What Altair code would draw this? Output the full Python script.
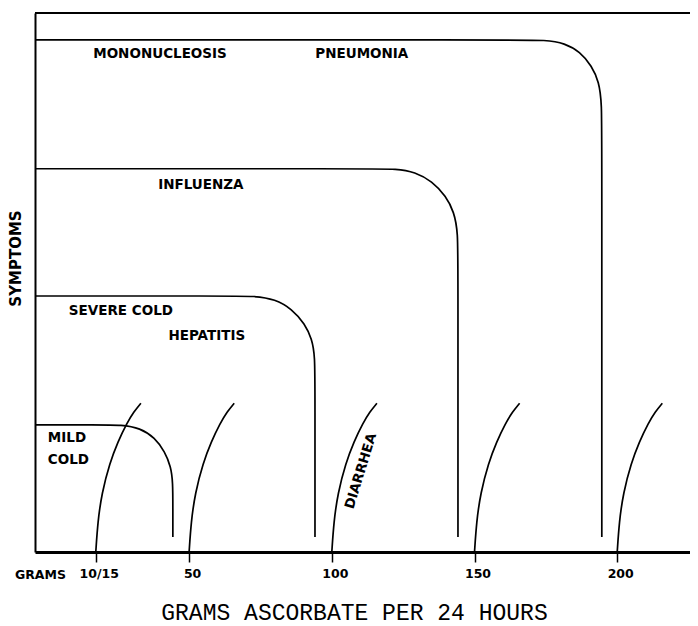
import altair as alt
import pandas as pd

# ---- data (x = grams ascorbate per 24 h, y = symptom level 0-100) ----
pneumonia_g = [-4, 165.0, 174.7, 181.7, 186.9, 191.1, 193.6, 194.6, 194.6, 194.6]
pneumonia_level = [95.0, 95.0, 95.0, 94.4, 92.8, 90.2, 87.2, 83.3, 75.0, 2.8]

influenza_g = [-4, 113.0, 122.8, 129.1, 135.1, 140.0, 142.8, 144.2, 144.2, 144.2]
influenza_level = [71.1, 71.1, 71.1, 70.5, 68.8, 66.0, 63.1, 59.4, 52.0, 2.8]

severe_cold_g = [-4, 63.0, 73.1, 80.1, 86.0, 90.6, 93.0, 94.1, 94.1, 94.1]
severe_cold_level = [47.5, 47.5, 47.5, 46.9, 45.1, 42.3, 39.5, 36.5, 29.0, 2.8]

mild_cold_g = [-4, 18.0, 26.5, 32.8, 38.0, 41.5, 43.6, 44.3, 44.3, 44.3]
mild_cold_level = [23.6, 23.6, 23.6, 23.0, 21.2, 18.6, 15.8, 13.0, 8.0, 2.8]

diarrhea_level = [0, 5.6, 10.9, 16.5, 20.4, 23.9, 26.0, 27.6]
diarrhea_1_g = [17.3, 18.0, 19.4, 22.2, 25.0, 28.2, 30.6, 33.1]
diarrhea_2_g = [50, 50.7, 52.1, 54.9, 57.7, 60.9, 63.3, 65.8]
diarrhea_3_g = [100, 100.7, 102.1, 104.9, 107.7, 110.9, 113.3, 115.8]
diarrhea_4_g = [150, 150.7, 152.1, 154.9, 157.7, 160.9, 163.3, 165.8]
diarrhea_5_g = [200, 200.7, 202.1, 204.9, 207.7, 210.9, 213.3, 215.8]

tick_values = [17.3, 50, 100, 150, 200]
tick_labels = ["10/15", "50", "100", "150", "200"]

center_labels = ["MONONUCLEOSIS", "PNEUMONIA", "INFLUENZA", "SEVERE COLD", "HEPATITIS"]
center_label_g = [39.8, 110.5, 54.1, 26.1, 56.2]
center_label_level = [92.4, 92.4, 68.1, 44.7, 40.1]

left_labels = ["MILD", "COLD"]
left_label_g = [0.5, 0.5]
left_label_level = [21.2, 17.1]

diarrhea_label = ["DIARRHEA"]
diarrhea_label_g = [110.2]
diarrhea_label_level = [15.0]
diarrhea_label_angle = [287]

grams_label = ["GRAMS"]
grams_label_g = [-2.1]
grams_label_level = [-4.3]

x_domain = [-4, 225.5]
y_domain = [0, 100]

# ---- build tables ----
series = {
    "pneumonia": (pneumonia_g, pneumonia_level),
    "influenza": (influenza_g, influenza_level),
    "severe_cold": (severe_cold_g, severe_cold_level),
    "mild_cold": (mild_cold_g, mild_cold_level),
    "diarrhea_1": (diarrhea_1_g, diarrhea_level),
    "diarrhea_2": (diarrhea_2_g, diarrhea_level),
    "diarrhea_3": (diarrhea_3_g, diarrhea_level),
    "diarrhea_4": (diarrhea_4_g, diarrhea_level),
    "diarrhea_5": (diarrhea_5_g, diarrhea_level),
}
rows = []
for name, (gs, ls) in series.items():
    for i, (g, l) in enumerate(zip(gs, ls)):
        rows.append({"curve": name, "order": i, "g": g, "level": l})
curves_df = pd.DataFrame(rows)

center_df = pd.DataFrame({"label": center_labels, "g": center_label_g, "level": center_label_level})
left_df = pd.DataFrame({"label": left_labels, "g": left_label_g, "level": left_label_level})
diar_df = pd.DataFrame({"label": diarrhea_label, "g": diarrhea_label_g,
                        "level": diarrhea_label_level, "angle": diarrhea_label_angle})
grams_df = pd.DataFrame({"label": grams_label, "g": grams_label_g, "level": grams_label_level})
border_df = pd.DataFrame({"g": [x_domain[0]], "g2": [x_domain[1]], "level": [y_domain[1]]})

FONT = "DejaVu Sans"
label_expr = "[" + ",".join("'%s'" % t for t in tick_labels) + "][indexof([" + \
    ",".join(str(v) for v in tick_values) + "], datum.value)]"

x_scale = alt.Scale(domain=x_domain, nice=False, zero=False)
y_scale = alt.Scale(domain=y_domain, nice=False, zero=False)

x_axis = alt.Axis(
    values=tick_values, labelExpr=label_expr, grid=False,
    domainColor="black", domainWidth=3,
    tickColor="black", tickWidth=1.5, tickSize=10,
    labelFont=FONT, labelFontWeight="bold", labelFontSize=12.5, labelColor="black",
    labelPadding=5, labelOffset=3,
    title="GRAMS ASCORBATE PER 24 HOURS", titleFont="Liberation Mono",
    titleFontSize=23, titleFontWeight="normal", titleColor="black",
    titleX=319, titleY=60, titleAlign="center", titleBaseline="middle",
)
y_axis = alt.Axis(
    grid=False, ticks=False, labels=False,
    domainColor="black", domainWidth=2,
    title="SYMPTOMS", titleFont=FONT, titleFontWeight="bold", titleFontSize=15,
    titleColor="black", titleAngle=270, titleX=-20, titleY=245,
    titleAlign="center", titleBaseline="middle",
)

lines = alt.Chart(curves_df).mark_line(color="black", strokeWidth=1.7, interpolate="basis").encode(
    x=alt.X("g:Q", scale=x_scale, axis=x_axis),
    y=alt.Y("level:Q", scale=y_scale, axis=y_axis),
    detail="curve:N",
    order="order:Q",
)

border = alt.Chart(border_df).mark_rule(color="black", strokeWidth=2).encode(
    x="g:Q", x2="g2:Q", y="level:Q"
)

txt_center = alt.Chart(center_df).mark_text(
    font=FONT, fontWeight="bold", fontSize=13.5, color="black", align="center", baseline="middle"
).encode(x="g:Q", y="level:Q", text="label:N")

txt_left = alt.Chart(left_df).mark_text(
    font=FONT, fontWeight="bold", fontSize=13.5, color="black", align="left", baseline="middle"
).encode(x="g:Q", y="level:Q", text="label:N")

txt_diar = alt.Chart(diar_df).mark_text(
    font=FONT, fontWeight="bold", fontSize=13.5, color="black", align="center", baseline="middle"
).encode(x="g:Q", y="level:Q", text="label:N", angle=alt.Angle("angle:Q", scale=None))

txt_grams = alt.Chart(grams_df).mark_text(
    font=FONT, fontWeight="bold", fontSize=12.5, color="black", align="center", baseline="middle"
).encode(x="g:Q", y="level:Q", text="label:N")

chart = alt.layer(lines, border, txt_center, txt_left, txt_diar, txt_grams).properties(
    width=655, height=539,
    padding={"left": 27, "top": 5, "right": 0, "bottom": 73},
    autosize=alt.AutoSizeParams(type="none"),
    background="white",
).configure_view(stroke=None)

chart.save("out.html", embed_options={"renderer": "svg", "actions": False})
